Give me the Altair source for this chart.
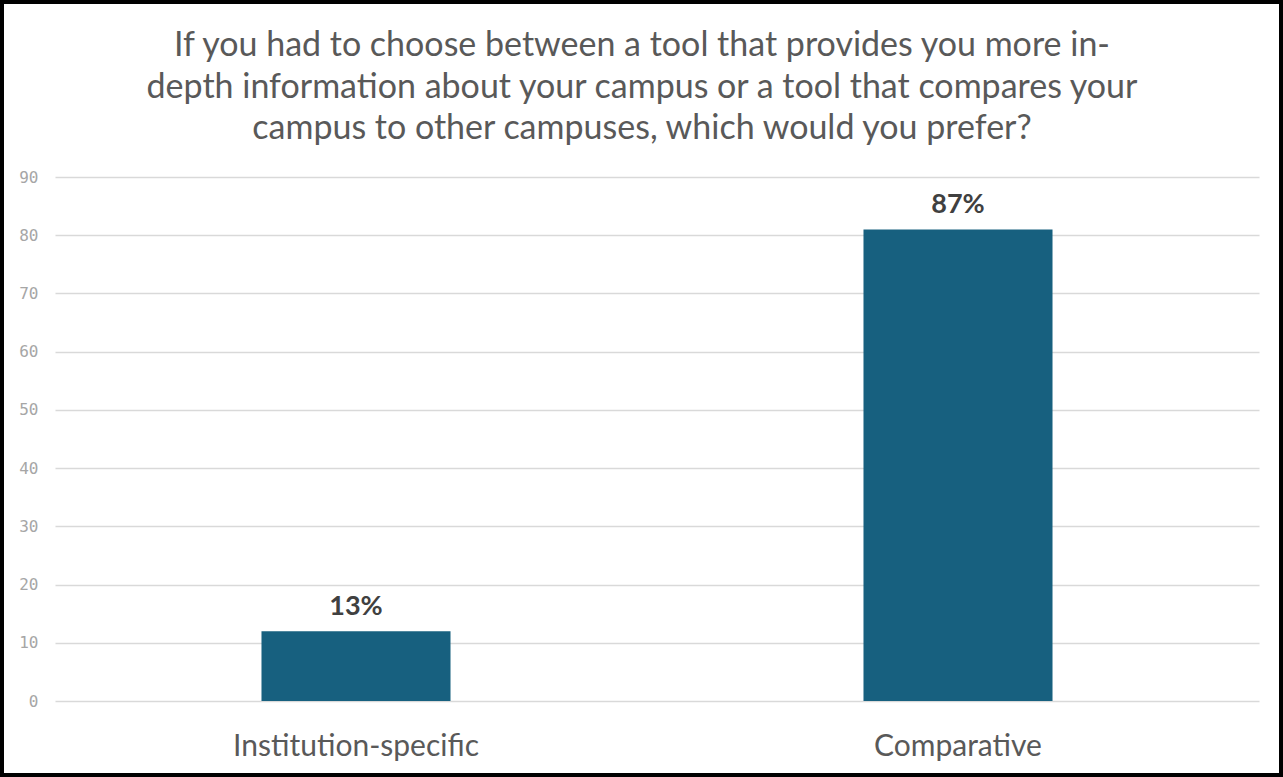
import altair as alt
import pandas as pd

categories = ["Institution-specific", "Comparative"]
values = [12, 81]
labels = ["13%", "87%"]

title_lines = [
    "If you had to choose between a tool that provides you more in-",
    "depth information about your campus or a tool that compares your",
    "campus to other campuses, which would you prefer?",
]

df = pd.DataFrame({"cat": categories, "val": values, "lab": labels})
title_df = pd.DataFrame({"t": ["\n".join(title_lines)]})

x_enc = alt.X("cat:N", sort=categories, title=None,
              scale=alt.Scale(paddingInner=0.686, paddingOuter=0.343),
              axis=alt.Axis(labelAngle=0, labelFont="Lato", labelFontSize=30,
                            labelColor="#595959", labelPadding=30, labelLimit=0,
                            domain=False, ticks=False))
y_enc = alt.Y("val:Q", title=None,
              scale=alt.Scale(domain=[0, 90]),
              axis=alt.Axis(values=list(range(0, 91, 10)), labelFont="DejaVu Sans Mono",
                            labelFontSize=16, labelColor="#a6a6a6", labelPadding=17,
                            domain=False, ticks=False, gridColor="#d9d9d9", gridWidth=1.5))

bars = alt.Chart(df).mark_bar(color="#17607F").encode(x=x_enc, y=y_enc)
text = alt.Chart(df).mark_text(dy=-24, font="Lato", fontSize=27, fontWeight="bold",
                               color="#404040").encode(
    x=alt.X("cat:N", sort=categories), y="val:Q", text="lab:N")

title = alt.Chart(title_df).mark_text(font="Lato", fontSize=34, color="#595959",
                                      lineBreak="\n", lineHeight=41.5, baseline="top",
                                      align="center", clip=False).encode(
    x=alt.value(587), y=alt.value(-148), text="t:N")

border = alt.Chart(df).mark_rect(fill=None, stroke="black", strokeWidth=4, clip=False).encode(
    x=alt.value(-53), x2=alt.value(1226), y=alt.value(-175), y2=alt.value(598))

chart = alt.layer(bars, text, title, border).properties(
    width=1204, height=524,
    background="white",
    padding={"left": 55, "top": 177, "right": 24, "bottom": 76},
    autosize=alt.AutoSizeParams(type="none"),
).configure_view(stroke=None)

chart.save("out.html", embed_options={"renderer": "svg", "actions": False})
